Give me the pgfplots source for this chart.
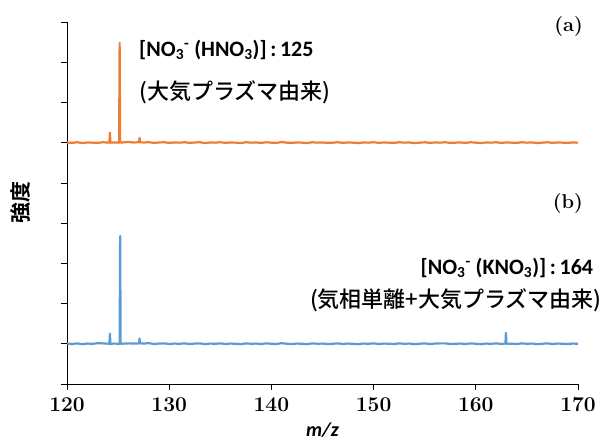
\documentclass[border=0pt]{standalone}
\usepackage{pgfplots}
\pgfplotsset{compat=1.18}
\usepackage{fontspec}
\newfontfamily\cjk{Noto Sans CJK JP}[BoldFont={Noto Sans CJK JP Medium}]
\newfontfamily\cjkh{Noto Sans CJK JP Bold}
\newfontfamily\carl{Carlito}
\definecolor{orA}{HTML}{ED7D31}
\definecolor{blB}{HTML}{5B9BD5}
\begin{document}
\begin{tikzpicture}
\useasboundingbox (-67pt,-57pt) rectangle (539pt,384pt);
\begin{axis}[
  at={(0,0)}, anchor=south west,
  scale only axis, width=511pt, height=362pt,
  xmin=120, xmax=170, ymin=0, ymax=9,
  axis lines*=left,
  xtick={120,130,...,170},
  ytick={0,1,...,9}, yticklabels={},
  tick align=outside,
  major tick length=6pt,
  every tick/.style={black, line width=0.6pt},
  axis line style={line width=0.8pt},
  tick label style={font=\fontsize{21}{21}\selectfont\bfseries},
  /pgf/number format/assume math mode=true,
  xticklabel style={yshift=-4pt},
  xlabel={\carl\bfseries\itshape m/z},
  xlabel style={font=\fontsize{20}{20}\selectfont, yshift=-4pt},
  ylabel={\cjkh 強度},
  ylabel style={font=\fontsize{21}{21}\selectfont, yshift=20pt},
  clip=false,
]
\addplot[orA, line width=2.2pt, line join=round] table {
120 6.005
120.5 5.995
121 6.01
121.5 5.99
122 6.005
122.5 6.00
123 5.995
123.5 6.01
124.15 6.00
124.2 6.25
124.25 6.00
124.6 6.005
125.1 6.00
125.15 8.48
125.2 6.00
125.25 6.02
125.3 6.00
125.6 6.01
126 6.015
126.5 6.005
127.05 6.01
127.1 6.12
127.15 6.01
127.5 6.005
128 6.01
128.5 5.995
129 6.005
129.5 6.01
130 5.995
130.5 6.005
131 6.00
131.5 6.01
132 5.995
132.5 6.005
133 6.01
133.5 5.99
134 6.005
134.5 6.00
135 6.01
135.5 5.995
136 6.005
136.5 6.00
137 5.99
137.5 6.01
138 6.00
138.5 6.005
139 5.995
139.5 6.01
140 6.00
140.5 5.995
141 6.015
141.5 6.00
142 5.995
142.5 6.005
143 6.00
143.5 5.99
144 6.01
144.5 6.00
145 6.005
145.5 5.995
146 6.00
146.5 6.01
147 5.995
147.5 6.005
148 6.00
148.5 5.99
149 6.005
149.5 6.00
150 6.01
150.5 5.995
151 6.005
151.5 6.00
152 5.995
152.5 6.01
153 6.00
153.5 6.005
154 5.99
154.5 6.00
155 6.01
155.5 5.995
156 6.005
156.5 6.00
157 6.01
157.5 5.995
158 6.00
158.5 6.005
159 5.995
159.5 6.01
160 6.00
160.5 5.99
161 6.005
161.5 6.00
162 6.01
162.5 5.995
163 6.005
163.5 6.00
164 5.995
164.5 6.01
165 6.00
165.5 6.005
166 5.99
166.5 6.00
167 6.01
167.5 5.995
168 6.005
168.5 6.00
169 5.995
169.5 6.005
170 6.00
};
\addplot[blB, line width=2.2pt, line join=round] table {
120 1.005
120.5 0.995
121 1.01
121.5 0.99
122 1.005
122.5 1.00
123 1.015
123.5 1.01
124.15 1.00
124.2 1.25
124.25 1.00
124.6 1.005
125.15 1.00
125.2 3.68
125.25 1.00
125.3 1.02
125.35 1.00
125.6 1.005
126 1.01
126.5 1.005
127.05 1.01
127.1 1.13
127.15 1.01
127.5 1.005
128 1.015
128.5 0.995
129 1.005
129.5 1.01
130 0.995
130.5 1.005
131 1.00
131.5 1.01
132 0.995
132.5 1.005
133 1.01
133.5 0.99
134 1.005
134.5 1.00
135 1.01
135.5 0.995
136 1.005
136.5 1.00
137 0.99
137.5 1.01
138 1.00
138.5 1.005
139 0.995
139.5 1.01
140 1.00
140.5 0.995
141 1.015
141.5 1.00
142 0.995
142.5 1.005
143 1.00
143.5 0.99
144 1.01
144.5 1.00
145 1.005
145.5 0.995
146 1.00
146.5 1.01
147 0.995
147.5 1.005
148 1.00
148.5 0.99
149 1.005
149.5 1.00
150 1.01
150.5 0.995
151 1.005
151.5 1.00
152 0.995
152.5 1.01
153 1.00
153.5 1.005
154 0.99
154.5 1.00
155 1.01
155.5 0.995
156 1.005
156.5 1.01
157 1.01
157.5 0.995
158 1.00
158.5 1.005
159 0.995
159.5 1.01
160 1.00
160.5 0.99
161 1.005
161.5 1.00
162 1.01
162.5 0.995
162.9 1.005
162.95 1.27
163.0 1.00
163.5 1.00
164 0.995
164.5 1.01
165 1.00
165.5 1.005
166 0.99
166.5 1.00
167 1.01
167.5 0.995
168 1.005
168.5 1.00
169 0.995
169.5 1.005
170 1.00
};
\node[anchor=east, font=\fontsize{20}{20}\selectfont\bfseries, inner sep=0pt] at (axis cs:170.5,8.88) {(a)};
\node[anchor=east, font=\fontsize{20}{20}\selectfont\bfseries, inner sep=0pt] at (axis cs:170.5,4.48) {(b)};
\node[anchor=west, font=\fontsize{22}{22}\selectfont\carl\bfseries, inner sep=0pt] at (axis cs:127.05,8.31) {[NO\textsubscript{3}\textsuperscript{-} (HNO\textsubscript{3})]\,:\,125};
\node[anchor=west, font=\fontsize{22}{22}\selectfont\cjk\bfseries, inner sep=0pt] at (axis cs:127.05,7.26) {(大気プラズマ由来)};
\node[anchor=east, font=\fontsize{22}{22}\selectfont\carl\bfseries, inner sep=0pt] at (axis cs:171.5,2.89) {[NO\textsubscript{3}\textsuperscript{-} (KNO\textsubscript{3})]\,:\,164};
\node[anchor=east, font=\fontsize{22}{22}\selectfont\cjk\bfseries, inner sep=0pt] at (axis cs:172.35,2.09) {(気相単離+大気プラズマ由来)};
\end{axis}
\end{tikzpicture}
\end{document}
